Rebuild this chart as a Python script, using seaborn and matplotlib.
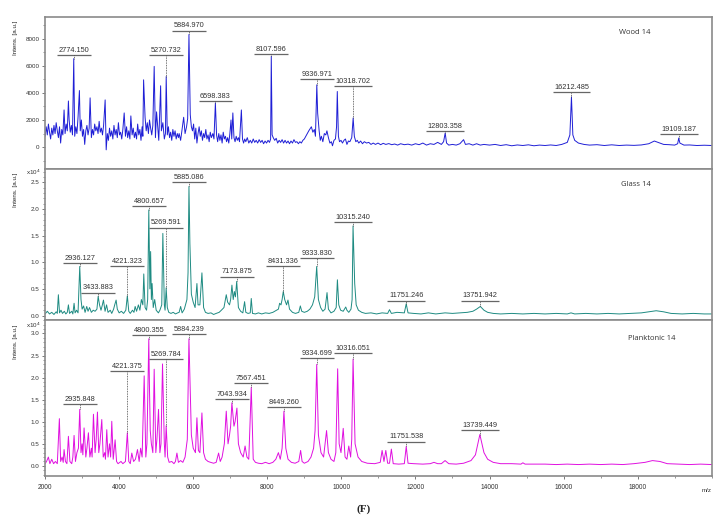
import matplotlib
matplotlib.use("Agg")
import matplotlib.pyplot as plt
from matplotlib.ticker import MultipleLocator, FormatStrFormatter
import pandas as pd
import seaborn as sns

# ---- Wood 14 (a.u.) ----
wood_base = [
    (2000, 800), (2030, 1500), (2060, 900), (2090, 1700), (2120, 1100), (2150, 600), (2180, 1400),
    (2210, 900), (2240, 1600), (2270, 1000), (2300, 1800), (2330, 1200), (2360, 700), (2390, 1500),
    (2420, 300), (2450, 1300), (2480, 900), (2540, 1000), (2570, 1700), (2600, 1200), (2650, 2000),
    (2680, 1100), (2710, 1600), (2740, 900), (2800, 800), (2830, 1500), (2860, 1000), (2890, 2200),
    (2950, 1200), (2980, 2000), (3010, 800), (3040, 1300), (3070, 200), (3100, 1200), (3130, 1600),
    (3160, 900), (3190, 1400), (3250, 700), (3280, 1300), (3310, 900), (3340, 1700), (3370, 1200),
    (3400, 1500), (3430, 1000), (3460, 1900), (3490, 1100), (3520, 1400), (3550, 900), (3580, 1600),
    (3650, -200), (3680, 1000), (3710, 500), (3740, 1400), (3770, 800), (3800, 1200), (3830, 600),
    (3860, 1600), (3890, 900), (3920, 1300), (3950, 700), (3980, 1800), (4010, 900), (4040, 1100),
    (4070, 600), (4100, 1300), (4170, 800), (4200, 1500), (4230, 700), (4260, 1200), (4290, 600),
    (4350, 900), (4380, 1400), (4410, 700), (4440, 1100), (4470, 600), (4500, 1700), (4530, 900),
    (4560, 1300), (4590, 500), (4620, 1500), (4640, 800), (4700, 2200), (4730, 1200), (4760, 1800),
    (4790, 1000), (4820, 2000), (4850, 1400), (4880, 900), (4910, 1600), (4980, 700), (5010, 2600),
    (5040, 1500), (5070, 500), (5140, 1200), (5180, 1800), (5220, 600), (5250, 1000), (5300, 900),
    (5330, 1500), (5360, 700), (5390, 1100), (5420, 500), (5450, 1300), (5480, 800), (5510, 1200),
    (5540, 600), (5570, 1000), (5600, 700), (5620, 1000), (5660, 500), (5700, 1300), (5742, 2200),
    (5780, 1000), (5820, 1500), (5850, 2100), (5920, 2400), (5950, 1500), (5980, 1200), (6010, 1700),
    (6040, 600), (6070, 1400), (6100, 300), (6130, 1000), (6160, 1500), (6190, 800), (6220, 1200),
    (6250, 500), (6280, 1000), (6310, 700), (6340, 1300), (6370, 600), (6400, 900), (6430, 400),
    (6460, 1100), (6490, 700), (6530, 1000), (6560, 600), (6630, 900), (6660, 400), (6690, 1000),
    (6720, 500), (6750, 900), (6780, 300), (6810, 1100), (6840, 600), (6870, 800), (6900, 400),
    (6930, 700), (6960, 300), (6990, 1000), (7020, 2000), (7040, 600), (7100, 700), (7130, 400),
    (7160, 800), (7190, 500), (7220, 700), (7250, 400), (7330, 600), (7360, 300), (7390, 600),
    (7420, 400), (7460, 700), (7500, 300), (7540, 500), (7580, 300), (7620, 600), (7660, 350),
    (7700, 500), (7740, 300), (7780, 550), (7820, 350), (7860, 500), (7900, 250), (7940, 450),
    (7980, 300), (8020, 500), (8060, 350), (8090, 600), (8130, 900), (8160, 700), (8200, 500),
    (8240, 650), (8280, 300), (8320, 500), (8360, 350), (8400, 550), (8440, 300), (8480, 500),
    (8520, 300), (8560, 450), (8600, 250), (8640, 450), (8680, 300), (8720, 550), (8760, 350),
    (8800, 400), (8840, 250), (8880, 400), (8920, 300), (8960, 500), (9000, 600), (9060, 900),
    (9120, 1200), (9190, 1500), (9230, 1100), (9270, 1300), (9300, 800), (9360, 2500), (9400, 1200),
    (9430, 500), (9460, 800), (9500, 400), (9540, 1000), (9580, 900), (9610, 1200), (9650, 700),
    (9690, 300), (9730, 400), (9760, 100), (9800, 500), (9840, 600), (9870, 1500), (9920, 800),
    (9950, 400), (9990, 500), (10030, 300), (10070, 500), (10110, 600), (10150, 200), (10190, 450),
    (10230, 400), (10280, 700), (10350, 800), (10390, 400), (10430, 500), (10470, 300), (10520, 450),
    (10570, 250), (10620, 400), (10680, 300), (10740, 350), (10800, 200), (10860, 300), (10920, 200),
    (10990, 300), (11060, 180), (11130, 280), (11200, 200), (11280, 260), (11360, 180), (11440, 230),
    (11520, 150), (11600, 250), (11700, 180), (11800, 220), (11900, 150), (12000, 250), (12100, 180),
    (12200, 300), (12300, 150), (12400, 250), (12500, 200), (12600, 350), (12700, 200), (12760, 400),
    (12840, 300), (12900, 150), (13000, 200), (13100, 150), (13200, 250), (13300, 550), (13350, 200),
    (13450, 250), (13550, 150), (13650, 250), (13750, 150), (13850, 200), (14000, 150), (14150, 200),
    (14300, 120), (14450, 180), (14600, 100), (14750, 160), (14900, 120), (15050, 170), (15200, 100),
    (15350, 150), (15500, 120), (15650, 160), (15800, 120), (15950, 200), (16100, 350), (16170, 900),
    (16250, 900), (16300, 500), (16400, 300), (16550, 200), (16700, 150), (16900, 180), (17100, 120),
    (17300, 170), (17500, 120), (17700, 150), (17900, 130), (18100, 160), (18300, 250), (18450, 450),
    (18550, 350), (18700, 200), (18850, 180), (19000, 150), (19080, 250), (19140, 300), (19250, 150),
    (19400, 160), (19600, 120), (19800, 140), (20000, 120),
]
wood_peaks = [
    (2513, 2740), (2630, 3400), (2927, 4170), (3216, 3630), (3622, 3480), (4136, 2520), (4316, 2300),
    (4660, 4960), (4946, 5950), (5120, 4520), (7070, 2520), (7300, 2740), (9890, 4100),
]
wood_tags = ["2774.150", "5270.732", "5884.970", "6598.383", "8107.596",
             "9336.971", "10318.702", "12803.358", "16212.485", "19109.187"]
wood_tag_int = [6520, 5200, 8300, 3260, 6690, 4590, 2150, 1040, 3700, 670]
wood_tag_y = [6815, 6815, 8590, 3400, 6890, 5040, 4520, 1185, 4070, 960]

# ---- Glass 14 (x10^4 a.u.) ----
glass_base = [
    (2000, 0.03), (2060, 0.08), (2120, 0.03), (2180, 0.06), (2240, 0.02), (2300, 0.07), (2330, 0.04),
    (2390, 0.05), (2430, 0.1), (2470, 0.04), (2520, 0.08), (2560, 0.03), (2600, 0.06), (2660, 0.04),
    (2720, 0.08), (2750, 0.03), (2810, 0.05), (2850, 0.1), (2890, 0.05), (2970, 0.3), (3000, 0.12),
    (3040, 0.18), (3080, 0.06), (3160, 0.08), (3200, 0.15), (3250, 0.06), (3300, 0.1), (3350, 0.08),
    (3400, 0.12), (3470, 0.2), (3510, 0.1), (3540, 0.18), (3620, 0.08), (3660, 0.2), (3700, 0.06),
    (3760, 0.1), (3800, 0.04), (3850, 0.12), (3880, 0.2), (3950, 0.12), (4000, 0.05), (4060, 0.08),
    (4120, 0.04), (4180, 0.1), (4260, 0.08), (4300, 0.04), (4360, 0.1), (4400, 0.06), (4470, 0.08),
    (4520, 0.2), (4560, 0.1), (4600, 0.3), (4640, 0.2), (4700, 0.15), (4740, 0.1), (4770, 0.3),
    (4830, 0.5), (4870, 0.3), (4920, 0.15), (5000, 0.1), (5060, 0.05), (5100, 0.1), (5150, 0.2),
    (5220, 0.2), (5240, 0.1), (5300, 0.15), (5340, 0.06), (5400, 0.04), (5460, 0.06), (5520, 0.03),
    (5580, 0.05), (5620, 0.06), (5700, 0.05), (5760, 0.12), (5830, 0.3), (5860, 0.8), (5950, 0.4),
    (6000, 0.25), (6050, 0.15), (6130, 0.2), (6180, 0.2), (6280, 0.15), (6330, 0.06), (6400, 0.04),
    (6480, 0.05), (6550, 0.02), (6620, 0.04), (6700, 0.06), (6760, 0.1), (6830, 0.15), (6930, 0.25),
    (6980, 0.2), (7010, 0.3), (7080, 0.3), (7110, 0.45), (7140, 0.35), (7220, 0.15), (7280, 0.08),
    (7340, 0.05), (7420, 0.06), (7480, 0.04), (7540, 0.05), (7600, 0.04), (7680, 0.03), (7760, 0.05),
    (7850, 0.03), (7950, 0.05), (8050, 0.04), (8150, 0.06), (8250, 0.1), (8300, 0.12), (8370, 0.2),
    (8400, 0.3), (8470, 0.3), (8520, 0.2), (8600, 0.12), (8680, 0.06), (8760, 0.04), (8850, 0.06),
    (8930, 0.08), (9000, 0.06), (9080, 0.08), (9150, 0.12), (9220, 0.2), (9280, 0.35), (9380, 0.3),
    (9440, 0.15), (9500, 0.08), (9560, 0.12), (9650, 0.12), (9720, 0.05), (9800, 0.08), (9860, 0.15),
    (9930, 0.2), (9980, 0.1), (10050, 0.08), (10150, 0.1), (10200, 0.06), (10260, 0.12), (10290, 0.3),
    (10400, 0.2), (10460, 0.1), (10550, 0.06), (10650, 0.04), (10800, 0.05), (10950, 0.03), (11100, 0.05),
    (11250, 0.04), (11350, 0.04), (11500, 0.06), (11700, 0.05), (11800, 0.05), (11950, 0.04), (12150, 0.03),
    (12350, 0.05), (12550, 0.03), (12800, 0.05), (13000, 0.04), (13200, 0.05), (13400, 0.06), (13550, 0.08),
    (13650, 0.12), (13850, 0.1), (13950, 0.06), (14100, 0.04), (14300, 0.03), (14600, 0.04), (14900, 0.03),
    (15200, 0.04), (15500, 0.03), (15800, 0.04), (16100, 0.03), (16300, 0.03), (16600, 0.04), (16900, 0.03),
    (17200, 0.04), (17500, 0.03), (17800, 0.04), (18100, 0.05), (18300, 0.07), (18500, 0.09), (18700, 0.07),
    (18900, 0.04), (19200, 0.03), (19500, 0.04), (19800, 0.03), (20000, 0.03),
]
glass_peaks = [
    (2359, 0.39), (2630, 0.2), (2783, 0.23), (3125, 0.17), (3576, 0.29), (3918, 0.29), (4432, 0.17),
    (4665, 0.78), (4850, 1.2), (4890, 0.6), (4960, 0.3), (5180, 1.54), (5660, 0.17), (5910, 1.35),
    (6100, 0.6), (6235, 0.8), (6892, 0.39), (7045, 0.57), (7387, 0.26), (7567, 0.32), (8333, 0.23),
    (8558, 0.29), (8892, 0.18), (9613, 0.43), (9893, 0.67), (10118, 0.16), (10360, 0.6), (11300, 0.11),
    (16200, 0.05),
]
glass_tags = ["2936.127", "3433.883", "4221.323", "4800.657", "5269.591", "5885.086",
              "7173.875", "8431.336", "9333.830", "10315.240", "11751.246", "13751.942"]
glass_tag_int = [0.92, 0.36, 0.37, 1.98, 0.52, 2.42, 0.64, 0.45, 0.92, 1.68, 0.22, 0.17]
glass_tag_y = [0.98, 0.43, 0.92, 2.05, 1.65, 2.51, 0.73, 0.93, 1.07, 1.76, 0.28, 0.28]

# ---- Planktonic 14 (x10^4 a.u.) ----
plank_base = [
    (2000, 0.05), (2040, 0.1), (2130, 0.05), (2180, 0.15), (2230, 0.05), (2280, 0.1), (2330, 0.05),
    (2420, 0.1), (2460, 0.2), (2490, 0.08), (2550, 0.1), (2590, 0.05), (2670, 0.1), (2720, 0.05),
    (2750, 0.2), (2820, 0.1), (2860, 0.3), (2900, 0.4), (2970, 0.3), (3000, 0.5), (3020, 0.25),
    (3100, 0.2), (3130, 0.4), (3210, 0.2), (3250, 0.4), (3270, 0.2), (3350, 0.3), (3380, 0.6),
    (3450, 0.3), (3480, 0.5), (3570, 0.2), (3610, 0.3), (3630, 0.15), (3700, 0.2), (3740, 0.5),
    (3770, 0.2), (3840, 0.15), (3930, 0.1), (3970, 0.05), (4050, 0.1), (4100, 0.05), (4170, 0.1),
    (4260, 0.1), (4300, 0.05), (4390, 0.1), (4440, 0.15), (4540, 0.1), (4580, 0.4), (4620, 0.2),
    (4720, 0.2), (4750, 0.5), (4840, 0.8), (4870, 0.5), (4910, 0.3), (4990, 0.3), (5020, 0.6),
    (5100, 0.3), (5130, 0.5), (5220, 0.5), (5240, 0.2), (5310, 0.2), (5350, 0.08), (5420, 0.1),
    (5480, 0.05), (5520, 0.1), (5600, 0.08), (5660, 0.12), (5720, 0.08), (5780, 0.2), (5840, 0.6),
    (5950, 0.7), (6000, 0.4), (6060, 0.3), (6140, 0.35), (6180, 0.3), (6280, 0.3), (6330, 0.15),
    (6400, 0.1), (6470, 0.08), (6550, 0.06), (6620, 0.08), (6730, 0.1), (6780, 0.2), (6840, 0.5),
    (6940, 0.5), (6980, 0.7), (7010, 0.9), (7100, 0.9), (7130, 1.0), (7220, 0.5), (7280, 0.3),
    (7350, 0.2), (7450, 0.2), (7500, 0.15), (7620, 0.15), (7680, 0.08), (7760, 0.06), (7850, 0.05),
    (7950, 0.08), (8050, 0.05), (8150, 0.08), (8230, 0.15), (8350, 0.15), (8400, 0.4), (8500, 0.4),
    (8560, 0.15), (8650, 0.08), (8750, 0.06), (8850, 0.1), (8940, 0.1), (9000, 0.06), (9100, 0.1),
    (9180, 0.2), (9250, 0.4), (9290, 0.8), (9380, 0.7), (9450, 0.3), (9520, 0.2), (9650, 0.3),
    (9720, 0.15), (9800, 0.1), (9850, 0.3), (9940, 0.5), (9990, 0.3), (10100, 0.2), (10150, 0.15),
    (10250, 0.2), (10280, 0.6), (10370, 0.5), (10450, 0.2), (10550, 0.1), (10700, 0.06), (10900, 0.05),
    (11050, 0.08), (11150, 0.1), (11250, 0.06), (11300, 0.06), (11400, 0.05), (11550, 0.04), (11700, 0.05),
    (11800, 0.06), (11950, 0.05), (12200, 0.04), (12400, 0.05), (12600, 0.05), (12700, 0.05), (12900, 0.05),
    (13100, 0.04), (13300, 0.06), (13500, 0.12), (13620, 0.25), (13850, 0.3), (13950, 0.15), (14100, 0.08),
    (14300, 0.05), (14600, 0.05), (14850, 0.04), (14960, 0.04), (15200, 0.04), (15500, 0.04), (15800, 0.03),
    (16100, 0.04), (16400, 0.03), (16700, 0.04), (17000, 0.03), (17300, 0.04), (17600, 0.03), (17900, 0.05),
    (18200, 0.08), (18400, 0.12), (18600, 0.1), (18800, 0.05), (19100, 0.04), (19400, 0.03), (19700, 0.04),
    (20000, 0.03),
]
plank_peaks = [
    (2089, 0.2), (2386, 1.07), (2513, 0.37), (2630, 0.67), (2783, 0.69), (3053, 0.86), (3170, 0.75),
    (3306, 1.17), (3414, 1.22), (3531, 1.05), (3666, 0.82), (3801, 1.01), (3891, 0.59), (4342, 0.29),
    (4495, 0.37), (4676, 2.04), (4820, 1.70), (4946, 2.19), (5063, 1.28), (5171, 2.31), (5560, 0.29),
    (6100, 1.09), (6235, 1.2), (6685, 0.29), (6892, 1.24), (7180, 1.31), (7400, 0.45), (8300, 0.3),
    (8900, 0.35), (9600, 0.8), (9900, 2.2), (10050, 0.85), (10200, 0.45), (11100, 0.35), (11200, 0.35),
    (11350, 0.38), (12500, 0.08), (12800, 0.12), (14900, 0.07),
]
plank_tags = ["2935.848", "4221.375", "4800.355", "5269.784", "5884.239", "7043.934",
              "7567.451", "8449.260", "9334.699", "10316.051", "11751.538", "13739.449"]
plank_tag_int = [1.28, 0.75, 2.88, 0.91, 2.88, 1.43, 1.78, 1.24, 2.30, 2.42, 0.44, 0.71]
plank_tag_y = [1.41, 2.15, 2.97, 2.42, 2.99, 1.51, 1.87, 1.33, 2.44, 2.55, 0.55, 0.82]

sns.set_style("white")
plt.rcParams['font.family'] = ['Liberation Sans', 'DejaVu Sans']

fig = plt.figure(figsize=(7.27, 5.26), dpi=100)

panels = [
    dict(name="Wood 14", base=wood_base, peaks=wood_peaks, tags=wood_tags, tag_int=wood_tag_int,
         tag_y=wood_tag_y, color="#1f1fd6", rect=[0.062, 0.679, 0.917, 0.289],
         ylim=(-1600, 9600), major=2000, minor=1000, fmt="%d", scaled=False, name_xy=(0.885, 0.895)),
    dict(name="Glass 14", base=glass_base, peaks=glass_peaks, tags=glass_tags, tag_int=glass_tag_int,
         tag_y=glass_tag_y, color="#1e8b82", rect=[0.062, 0.392, 0.917, 0.287],
         ylim=(-0.08, 2.75), major=0.5, minor=0.1, fmt="%.1f", scaled=True, name_xy=(0.886, 0.894)),
    dict(name="Planktonic 14", base=plank_base, peaks=plank_peaks, tags=plank_tags, tag_int=plank_tag_int,
         tag_y=plank_tag_y, color="#e010e0", rect=[0.062, 0.095, 0.917, 0.297],
         ylim=(-0.23, 3.31), major=0.5, minor=0.1, fmt="%.1f", scaled=True, name_xy=(0.91, 0.878)),
]

frame_col = "#8a8a8a"
for i, p in enumerate(panels):
    ax = fig.add_axes(p["rect"])
    pts = list(p["base"]) + list(p["peaks"]) + [(float(t), v) for t, v in zip(p["tags"], p["tag_int"])]
    df = pd.DataFrame(pts, columns=["mz", "intensity"]).sort_values("mz")
    sns.lineplot(data=df, x="mz", y="intensity", ax=ax, color=p["color"], linewidth=0.7,
                 estimator=None, sort=False)
    ax.set_xlim(2000, 20000)
    ax.set_ylim(*p["ylim"])
    ax.set_xlabel("")
    ax.set_ylabel("Intens. [a.u.]", fontsize=4.5, color="#222")
    ax.yaxis.set_label_coords(-0.04, 0.86)
    for s in ax.spines.values():
        s.set_color(frame_col)
        s.set_linewidth(1.2)

    ax.yaxis.set_major_locator(MultipleLocator(p["major"]))
    ax.yaxis.set_minor_locator(MultipleLocator(p["minor"]))
    ax.yaxis.set_major_formatter(FormatStrFormatter(p["fmt"]))
    ax.tick_params(axis="y", which="both", left=True, direction="out", labelsize=4.5,
                   colors="#444", labelcolor="#333", pad=1.5)
    ax.tick_params(axis="y", which="major", length=2.5, width=0.5)
    ax.tick_params(axis="y", which="minor", length=1.3, width=0.4)

    if i < 2:
        ax.tick_params(axis="x", which="both", bottom=False, labelbottom=False)
    else:
        ax.xaxis.set_major_locator(MultipleLocator(2000))
        ax.xaxis.set_minor_locator(MultipleLocator(1000))
        ax.tick_params(axis="x", which="both", bottom=True, direction="out", labelsize=4.8,
                       colors="#444", labelcolor="#333", pad=3)
        ax.tick_params(axis="x", which="major", length=2.5, width=0.5)
        ax.tick_params(axis="x", which="minor", length=1.5, width=0.4)
        xt = ax.get_xticks()
        ax.set_xticks([t for t in xt if 2000 <= t <= 18000])

    if p["scaled"]:
        ax.text(-0.018, 0.975 if i == 1 else 0.962, "x10$^4$", transform=ax.transAxes,
                fontsize=4.5, ha="center", va="center", color="#333")

    ax.text(p["name_xy"][0], p["name_xy"][1], p["name"], transform=ax.transAxes,
            fontsize=5.5, ha="center", va="center", color="#333", family=["Open Sans", "DejaVu Sans"])

    # peak labels with underline and dotted leader
    for t, h, uy in zip(p["tags"], p["tag_int"], p["tag_y"]):
        mz = float(t)
        half = len(t) * 55 + 15
        ax.plot([mz - half, mz + half], [uy, uy], color="#666", lw=0.9, solid_capstyle="butt")
        ax.vlines(mz, h, uy, colors="#444", linestyles=(0, (1, 1)), linewidth=0.6)
        ax.annotate(t, xy=(mz, uy), xytext=(0, 0.8), textcoords="offset points",
                    ha="center", va="bottom", fontsize=5.3, color="#333")

fig.text(0.972, 0.068, "m/z", fontsize=4.5, ha="center", va="center", color="#333")
fig.text(0.5, 0.032, "(F)", fontsize=8, ha="center", va="center", fontweight="bold",
         family=["Liberation Serif", "DejaVu Serif"])

fig.savefig("out.png", dpi=100, facecolor="white")
